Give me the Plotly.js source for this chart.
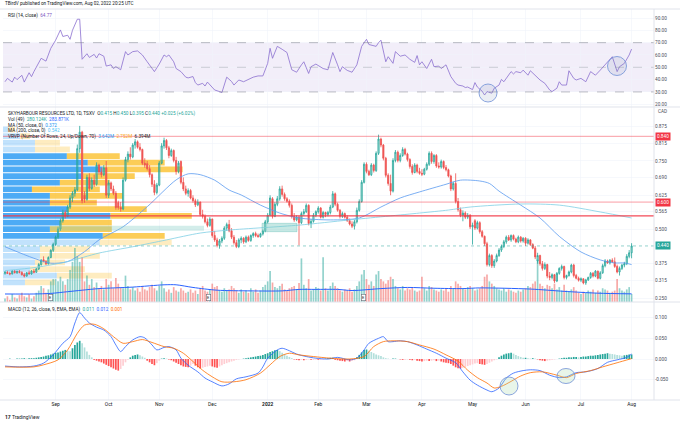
<!DOCTYPE html>
<html><head><meta charset="utf-8">
<script src="https://cdn.plot.ly/plotly-3.0.1.min.js"></script>
<style>html,body{margin:0;padding:0;background:#fff}#chart{width:680px;height:423px}</style>
</head><body><div id="chart"></div>
<script>
// ---------- trading days (weekdays) Aug 3 2021 .. Aug 2 2022 ----------
const dates = [];
(function(){ let t = Date.UTC(2021,7,3); const end = Date.UTC(2022,7,2);
  while (t <= end) { const d = new Date(t); const wd = d.getUTCDay();
    if (wd !== 0 && wd !== 6) dates.push(d.toISOString().slice(0,10)); t += 86400000; } })();

const tickDates  = ['2021-09-01','2021-10-01','2021-11-01','2021-12-01','2022-01-03','2022-02-01','2022-03-01','2022-04-01','2022-05-02','2022-06-01','2022-07-04','2022-08-02'];
const tickLabels = ['Sep','Oct','Nov','Dec','<b>2022</b>','Feb','Mar','Apr','May','Jun','Jul','Aug'];

// ---------- OHLC ----------
const open = [.340,.344,.340,.338,.348,.342,.347,.343,.335,.330,
.342,.338,.348,.344,.356,.372,.390,.384,.375,.398,
.424,.446,.472,.502,.532,.562,.548,.582,.615,.632,
.645,.795,.855,.625,.610,.690,.650,.680,.665,.735,
.710,.700,.725,.625,.670,.648,.632,.598,.580,.575,
.680,.755,.775,.765,.808,.820,.800,.792,.742,.740,
.722,.700,.665,.635,.662,.742,.805,.825,.798,.770,
.788,.752,.712,.748,.672,.648,.632,.642,.615,.605,
.590,.600,.555,.548,.528,.515,.538,.478,.462,.442,
.458,.468,.505,.518,.495,.472,.452,.438,.462,.468,
.455,.472,.460,.478,.485,.478,.474,.484,.495,.528,
.552,.612,.548,.592,.612,.648,.628,.612,.603,.588,
.548,.535,.545,.525,.558,.565,.588,.522,.530,.552,
.565,.578,.545,.562,.555,.562,.582,.630,.592,.570,
.548,.558,.545,.532,.520,.512,.528,.570,.602,.672,
.738,.712,.700,.735,.715,.778,.830,.808,.760,.698,
.668,.640,.752,.782,.752,.770,.792,.775,.755,.730,
.708,.735,.712,.705,.702,.720,.738,.778,.748,.770,
.732,.728,.748,.726,.718,.695,.648,.668,.602,.572,
.552,.560,.545,.552,.510,.532,.505,.525,.492,.475,
.448,.372,.405,.368,.385,.405,.425,.438,.455,.472,
.462,.478,.465,.455,.472,.458,.468,.450,.462,.445,
.432,.385,.405,.375,.358,.372,.330,.325,.335,.312,
.340,.358,.365,.325,.332,.345,.370,.332,.322,.315,
.320,.305,.316,.325,.340,.330,.348,.322,.342,.368,
.385,.378,.388,.382,.365,.345,.358,.370,.375,.402,
.415];
const high = [.348,.350,.346,.352,.352,.350,.352,.348,.342,.345,
.350,.352,.356,.360,.378,.392,.402,.388,.402,.428,
.452,.478,.510,.540,.572,.570,.590,.625,.640,.655,
.810,.878,.860,.640,.700,.705,.690,.700,.745,.740,
.725,.735,.750,.680,.675,.660,.640,.605,.600,.690,
.765,.785,.800,.815,.830,.825,.815,.795,.760,.750,
.735,.705,.680,.670,.750,.815,.835,.830,.805,.795,
.792,.765,.750,.752,.690,.660,.650,.648,.625,.612,
.610,.602,.572,.555,.540,.545,.540,.495,.470,.465,
.475,.512,.525,.535,.505,.480,.462,.468,.475,.472,
.478,.478,.482,.490,.492,.485,.488,.500,.535,.560,
.625,.618,.600,.622,.658,.660,.635,.618,.610,.595,
.560,.552,.550,.565,.575,.595,.592,.538,.560,.570,
.585,.582,.568,.565,.568,.590,.640,.635,.598,.575,
.565,.562,.552,.540,.530,.535,.580,.610,.680,.745,
.745,.718,.742,.740,.785,.846,.835,.812,.765,.705,
.700,.760,.790,.788,.778,.800,.798,.780,.760,.738,
.742,.740,.725,.720,.725,.745,.785,.785,.775,.775,
.745,.755,.752,.735,.722,.700,.675,.705,.615,.580,
.570,.566,.560,.556,.525,.538,.532,.530,.498,.478,
.455,.412,.410,.392,.412,.432,.445,.462,.478,.480,
.482,.482,.470,.478,.476,.472,.472,.468,.465,.450,
.440,.415,.408,.385,.380,.375,.345,.340,.338,.345,
.362,.372,.368,.335,.350,.375,.375,.338,.328,.325,
.322,.320,.328,.345,.345,.352,.350,.348,.375,.392,
.390,.392,.395,.398,.372,.365,.375,.382,.410,.425,
.450];
const low = [.335,.338,.333,.336,.340,.338,.340,.332,.325,.328,
.336,.335,.340,.342,.352,.368,.380,.370,.372,.395,
.418,.440,.465,.495,.525,.540,.545,.575,.600,.620,
.640,.780,.595,.598,.605,.640,.645,.655,.660,.700,
.690,.695,.615,.615,.640,.625,.572,.572,.565,.570,
.675,.745,.755,.760,.795,.795,.785,.735,.725,.715,
.690,.655,.625,.628,.658,.738,.795,.790,.760,.765,
.745,.700,.705,.665,.640,.625,.620,.610,.598,.582,
.585,.548,.540,.522,.508,.510,.470,.455,.435,.430,
.450,.462,.495,.490,.465,.445,.432,.432,.450,.448,
.450,.455,.455,.470,.472,.470,.470,.478,.490,.522,
.548,.540,.545,.585,.605,.620,.605,.598,.580,.540,
.528,.530,.442,.520,.550,.560,.515,.505,.525,.545,
.558,.540,.540,.545,.548,.555,.578,.585,.565,.540,
.542,.540,.528,.515,.505,.500,.522,.565,.598,.668,
.705,.695,.695,.708,.710,.772,.800,.752,.690,.660,
.625,.635,.745,.745,.745,.765,.770,.748,.722,.700,
.705,.705,.700,.695,.698,.715,.732,.740,.740,.725,
.722,.722,.720,.712,.690,.640,.642,.595,.565,.545,
.530,.538,.538,.502,.445,.498,.500,.485,.470,.440,
.365,.365,.360,.360,.380,.400,.418,.432,.448,.458,
.455,.460,.450,.450,.452,.452,.440,.445,.440,.428,
.392,.375,.368,.350,.352,.322,.315,.318,.305,.308,
.335,.350,.318,.318,.328,.340,.325,.318,.310,.308,
.300,.298,.312,.320,.325,.326,.318,.318,.338,.362,
.375,.372,.378,.360,.340,.332,.352,.362,.370,.395,
.395];
const close = [.344,.340,.338,.348,.342,.347,.343,.335,.330,.342,
.338,.348,.344,.356,.372,.388,.384,.375,.398,.424,
.446,.472,.502,.532,.562,.548,.582,.615,.632,.645,
.795,.855,.605,.610,.690,.650,.680,.665,.735,.710,
.700,.725,.625,.670,.648,.632,.580,.580,.575,.680,
.755,.775,.765,.808,.820,.800,.792,.742,.735,.722,
.700,.665,.635,.662,.742,.805,.825,.798,.770,.788,
.752,.712,.742,.672,.648,.632,.642,.615,.605,.590,
.600,.555,.548,.528,.515,.538,.478,.462,.442,.458,
.468,.505,.518,.495,.472,.452,.438,.462,.468,.455,
.472,.460,.478,.485,.478,.474,.484,.495,.528,.552,
.615,.548,.592,.612,.648,.628,.612,.603,.588,.548,
.535,.545,.525,.558,.565,.588,.522,.530,.552,.565,
.578,.545,.562,.555,.562,.582,.630,.592,.570,.548,
.558,.545,.532,.520,.512,.528,.570,.602,.672,.738,
.712,.700,.735,.715,.778,.830,.808,.760,.698,.668,
.640,.752,.782,.752,.770,.792,.775,.755,.730,.708,
.735,.712,.705,.702,.720,.738,.778,.748,.770,.732,
.728,.748,.726,.718,.695,.648,.668,.602,.572,.552,
.560,.545,.552,.510,.515,.505,.525,.492,.475,.448,
.372,.405,.368,.385,.405,.425,.438,.455,.472,.462,
.478,.465,.455,.472,.458,.468,.450,.462,.445,.432,
.400,.405,.375,.358,.372,.330,.325,.335,.312,.340,
.358,.365,.325,.332,.345,.370,.332,.322,.315,.320,
.305,.316,.325,.340,.330,.348,.322,.342,.368,.385,
.378,.388,.382,.365,.345,.358,.370,.375,.402,.415,
.440];

// ---------- volume (K) ----------
const volume = [120,200,80,280,160,120,240,320,200,160,267,120,200,320,
400,560,480,320,440,720,800,
800,720,880,720,600,800,1120,1400,1880,
1600,1400,1560,
720,920,600,800,520,680,480,560,440,800,
600,720,480,840,640,520,480,920,560,440,
520,400,480,360,560,440,400,520,600,480,400,
560,720,480,360,440,320,520,400,360,480,400,320,
360,440,320,400,280,480,560,400,360,440,
640,520,560,400,360,480,400,440,560,480,400,320,
440,360,400,320,480,360,440,320,400,520,600,
720,1080,680,520,480,560,640,440,400,480,520,560,440,667,
1520,600,480,800,400,440,520,480,400,1560,480,400,560,
680,560,480,400,360,440,400,480,360,440,560,720,960,1120,
800,600,720,560,960,1080,800,720,640,760,880,
800,560,480,440,560,400,480,440,520,400,360,400,
880,480,400,560,520,440,400,360,440,400,480,360,560,480,
720,640,560,480,440,520,560,480,400,440,480,560,880,
960,720,640,560,480,440,400,480,360,440,400,360,320,400,360,440,
480,560,520,640,720,1480,640,560,480,600,
560,480,640,440,520,400,600,400,360,440,520,400,320,280,360,
320,400,360,440,320,400,360,480,440,400,320,360,400,800,480,400,360,440,520,280.124];
const volMaIdx = [0,12,19,26,32,39,53,66,71,78,88,102,115,122,129,138,144,156,167,178,190,197,218,232,246,260];
const volMaVal = [280,280,300,360,412,468,520,600,600,508,412,388,388,440,440,440,400,468,508,480,468,492,452,372,308,283.871];

// ---------- moving averages ----------
const ma50Idx = [0,12,19,26,33,39,49,59,71,76,81,87,93,98,106,114,122,135,147,156,164,172,183,189,197,201,205,214,222,230,239,247,253,257,260];
const ma50Val = [.437,.395,.377,.383,.419,.462,.510,.583,.681,.703,.700,.680,.644,.626,.589,.560,.542,.535,.542,.582,.615,.637,.665,.680,.677,.668,.640,.589,.542,.475,.418,.389,.378,.378,.372];
const ma200Idx = [0,13,26,39,53,67,81,93,122,143,172,184,193,214,230,247,260];
const ma200Val = [.350,.362,.383,.414,.437,.462,.487,.498,.516,.535,.560,.571,.582,.593,.589,.564,.542];

// ---------- VRVP (24 rows, up / down volume in K) ----------
const vrPrice = [.3071,.3314,.3556,.3799,.4041,.4284,.4526,.4769,.5011,.5254,.5496,.5739,.5981,.6224,.6466,.6709,.6951,.7194,.7436,.7679,.7921,.8164,.8406,.8649];
const vrUp   = [744,1825,913,1082,1251,1251,3279,3380,1589,1927,3642,2197,1589,1589,980,1927,2704,3380,2873,2163,1082,1082,575,169];
const vrDown = [1014,1859,1859,1014,2028,1690,2434,2096,2096,1758,2752,2670,1589,2467,2299,1690,1758,2704,2603,1791,1183,845,338,237];
const vaLow = 7, vaHigh = 19;

// ---------- RSI ----------
const rsiIdx = [0,1,3,4,5,7,8,10,11,12,15,17,19,21,23,24,26,27,28,30,31,32,34,35,37,38,39,41,42,44,45,46,48,50,51,53,55,57,59,61,62,64,66,67,68,70,71,73,75,76,78,79,80,82,83,84,86,87,89,90,92,94,95,97,99,101,103,105,107,109,110,111,113,115,117,119,121,123,124,126,127,129,132,134,136,138,139,140,142,144,146,148,150,151,154,155,156,158,159,161,162,164,166,168,170,171,172,173,175,177,178,180,181,183,184,185,187,188,190,191,192,194,195,196,198,199,200,202,203,205,206,207,210,211,212,214,215,217,218,220,222,224,226,227,229,230,231,233,234,236,237,239,241,243,245,247,249,251,252,254,255,257,259,260];
const rsiVal = [38.3,41,38,42,40,43.5,38,45.6,42.4,46.5,57.3,55,65.4,72,80.3,75,76,72.7,80,89,89,56.5,61,58,60.5,57.5,61,59,51,52,49,50.5,48,62.7,60,62.7,63.3,60,54.5,49,46.5,52.6,60,58.6,60,54.5,49,46.5,42,41.4,42.5,37.6,35.6,37,34.8,38,33.6,31.6,30.3,29.5,42,38.5,35.6,39.7,38.3,40.3,42,43,43,53.2,65.4,57.3,67,64.6,62,48,46,52,54.5,45,50.5,52.6,49,48,62,52,46.5,50.5,47.5,46,52,67,72.7,68.5,67,70,72,54.5,58.6,53.2,62.7,59,60,56.5,54,59.5,52,54.5,49,56.5,50.5,51,49,52,46.5,42.5,37,35.6,34.8,33.6,34,31.9,37.6,34,30.6,27.5,30.3,29,33,35.6,40.2,38.3,46.5,44.6,46.5,45.6,47.7,43.6,47.2,43.6,39.7,37,31.6,30.3,33,38.3,35.6,35.6,47.2,41,39.7,41,38.3,46.5,43.6,47.7,52,56.5,58.6,46.5,50.5,53.2,60,64.77];

// ---------- MACD ----------
const macdIdx = [0,6,12,16,20,24,27,29,31,33,35,38,41,44,46,48,50,53,56,58,61,63,66,68,71,73,76,80,83,86,90,93,96,100,105,107,109,113,115,118,121,125,129,134,138,143,146,149,151,155,157,159,161,164,167,171,175,179,183,187,190,193,196,200,202,205,208,211,215,218,222,226,230,233,237,241,246,250,254,258,260];
const macdVal = [-.017,-.019,-.017,-.010,.010,.038,.054,.087,.112,.099,.087,.077,.070,.054,.034,.018,.030,.046,.054,.051,.034,.022,.028,.030,.022,.002,-.015,-.031,-.046,-.055,-.065,-.060,-.048,-.043,-.034,-.019,.002,.022,.026,.020,.012,.006,.002,.000,.004,-.002,.002,.022,.038,.050,.054,.042,.042,.044,.042,.034,.024,.014,.002,-.009,-.031,-.051,-.063,-.075,-.079,-.070,-.046,-.034,-.028,-.026,-.028,-.039,-.045,-.043,-.033,-.031,-.023,-.008,-.002,.004,.012];
const sigIdx = [0,12,16,22,26,30,33,37,41,45,49,53,57,61,66,70,74,78,82,86,90,95,100,106,110,114,118,122,128,135,143,149,153,157,161,167,172,178,183,188,192,196,200,203,206,210,214,218,223,229,233,237,243,248,254,260];
const sigVal = [-.019,-.019,-.014,-.002,.022,.062,.082,.084,.073,.054,.038,.042,.047,.040,.030,.026,.014,-.006,-.027,-.043,-.055,-.055,-.050,-.034,-.014,.006,.014,.010,.006,.002,.000,.006,.030,.042,.044,.042,.034,.024,.010,-.005,-.027,-.045,-.058,-.070,-.066,-.054,-.041,-.033,-.031,-.039,-.045,-.035,-.028,-.019,-.009,.001];
const macdHist = [0,0,.001,0,0,.001,.001,.001,.002,.001,.002,.002,.002,.003,
.004,.005,.006,.008,.009,.011,.013,.015,.016,.018,.020,.022,.020,.019,
.026,.034,.040,.044,.038,.028,.018,.010,.004,-.002,
-.004,-.006,-.008,-.011,-.014,-.017,-.020,-.023,-.026,-.028,
-.024,-.016,-.008,-.002,.004,.008,.010,.011,.009,.006,.003,
-.004,-.008,-.012,-.015,-.010,-.004,.001,.002,.001,-.001,
-.003,-.006,-.009,-.012,-.015,-.018,-.019,-.020,-.016,-.012,
-.016,-.020,-.023,-.021,-.019,-.018,-.016,-.018,-.020,-.021,
-.018,-.015,-.012,-.010,-.008,-.006,-.004,-.002,-.001,0,
.001,.002,.003,.004,.005,.006,.007,.008,.010,
.012,.014,.017,.019,.021,.022,.019,.015,.012,.008,.005,.002,
-.001,-.002,-.003,-.002,-.003,-.002,-.001,-.002,
-.002,-.001,-.002,-.002,-.001,.001,.002,.003,.003,
-.002,-.003,-.004,-.005,-.006,-.005,-.006,-.005,-.003,
.004,.010,.016,.022,.023,.020,.017,.014,.011,.009,.007,.004,.002,
.001,0,.001,.001,0,-.001,-.002,-.002,-.001,-.002,-.003,-.002,
-.004,-.005,-.006,-.005,-.004,-.005,-.004,-.003,-.005,-.004,-.006,-.008,-.009,-.010,
-.012,-.016,-.020,-.022,-.023,-.021,-.019,-.017,-.015,-.013,-.011,-.010,
-.012,-.013,-.014,-.012,-.009,-.006,-.003,-.001,
.004,.008,.011,.013,.014,.015,.013,.010,.007,.005,.003,
.003,.002,.001,.002,.001,-.001,-.003,-.004,-.005,-.004,-.003,-.002,-.001,0,
.001,.002,.003,.003,.004,.004,.005,.005,
.004,.005,.006,.006,.007,.008,.008,.009,.010,.011,.012,.013,
.014,.013,.012,.011,.010,.009,.008,.009,.010,.011,.011];

// ---------- styling helpers ----------
const GRID = '#f0f3fa', AX = '#4a4e59', SEP = '#e0e3eb';
const FONT = 'Roboto, "Liberation Sans", sans-serif';
const px = x => (x - 3) / 651;      // pixel -> paper x
const py = y => (400 - y) / 391;    // pixel -> paper y
const pick = (idx) => idx.map(i => dates[i]);
const XR = [-0.83, 269.3];
const last = dates.length - 1;

const volColors = close.map((c,i) => c >= open[i] ? 'rgba(38,166,154,0.5)' : 'rgba(239,83,80,0.5)');
const histColors = macdHist.map((h,i) => { const p = i ? macdHist[i-1] : 0;
  return h >= 0 ? (h >= p ? '#26a69a' : '#b2dfdb') : (h < p ? '#ff5252' : '#ffcdd2'); });
const inVA = k => k >= vaLow && k <= vaHigh;
const upCol = vrPrice.map((_,k) => inVA(k) ? 'rgba(33,150,243,0.8)' : 'rgba(33,150,243,0.28)');
const dnCol = vrPrice.map((_,k) => inVA(k) ? 'rgba(251,192,45,0.8)' : 'rgba(251,192,45,0.3)');
const rowH = vrPrice[1] - vrPrice[0];
const vrTot = vrUp.map((u,k) => u + vrDown[k]);
const vrMax = Math.max(...vrTot) / 0.29;

const traces = [
  // RSI
  {type:'scatter', mode:'lines', x:pick(rsiIdx), y:rsiVal, xaxis:'x', yaxis:'y', line:{color:'#8a6fcf', width:0.8}},
  // base price subplot (anchor for the overlays): invisible marker at the last close
  {type:'scatter', mode:'markers', x:[dates[last]], y:[close[last]], xaxis:'x', yaxis:'y2', marker:{size:1, opacity:0}},
  // MACD
  {type:'bar', x:dates, y:macdHist, xaxis:'x', yaxis:'y3', marker:{color:histColors, line:{width:0}}},
  {type:'scatter', mode:'lines', x:pick(macdIdx), y:macdVal, xaxis:'x', yaxis:'y3', line:{color:'#2962ff', width:0.8, shape:'spline', smoothing:0.8}},
  {type:'scatter', mode:'lines', x:pick(sigIdx), y:sigVal, xaxis:'x', yaxis:'y3', line:{color:'#ff6d00', width:0.8, shape:'spline', smoothing:0.8}},
  // VRVP
  {type:'bar', orientation:'h', x:vrUp, y:vrPrice, base:0, width:rowH*0.86, xaxis:'x2', yaxis:'y2', marker:{color:upCol, line:{width:0}}},
  {type:'bar', orientation:'h', x:vrDown, y:vrPrice, base:vrUp, width:rowH*0.86, xaxis:'x2', yaxis:'y2', marker:{color:dnCol, line:{width:0}}},
  // volume
  {type:'bar', x:dates, y:volume, xaxis:'x3', yaxis:'y4', marker:{color:volColors, line:{width:0}}},
  {type:'scatter', mode:'lines', x:pick(volMaIdx), y:volMaVal, xaxis:'x3', yaxis:'y4', line:{color:'#2962ff', width:1, shape:'spline', smoothing:0.8}},
  // candles
  {type:'candlestick', x:dates, open:open, high:high, low:low, close:close, xaxis:'x4', yaxis:'y2',
   increasing:{line:{color:'#26a69a', width:0.8}, fillcolor:'rgba(38,166,154,0.35)'},
   decreasing:{line:{color:'#ef5350', width:0.8}, fillcolor:'#ef5350'}, whiskerwidth:0},
  {type:'scatter', mode:'lines', x:pick(ma50Idx), y:ma50Val, xaxis:'x4', yaxis:'y2', line:{color:'#5b9bf0', width:0.8, shape:'spline', smoothing:0.8}},
  {type:'scatter', mode:'lines', x:pick(ma200Idx), y:ma200Val, xaxis:'x4', yaxis:'y2', line:{color:'#7fcfe4', width:0.8, shape:'spline', smoothing:0.8}}
];

const tf = {family:FONT, size:4.7, color:AX};
const yBase = {side:'right', anchor:'x', showgrid:true, gridcolor:GRID, gridwidth:0.6, zeroline:false, showline:false, ticks:'', tickfont:tf, fixedrange:true};
const catX = {type:'category', categoryorder:'array', categoryarray:dates, range:XR, visible:false, overlaying:'x', fixedrange:true};
const rsiTicks = [20,30,40,50,60,70,80,90];
const pTicks = [0.250,0.315,0.375,0.500,0.565,0.625,0.690,0.750,0.815,0.875];
const mTicks = [-0.05,0,0.05,0.1];

const hline = (y, color, width, dash) => ({type:'line', xref:'paper', yref:'y2', x0:0, x1:1, y0:y, y1:y, line:{color:color, width:width, dash:dash||'solid'}});
const rsiLine = (y, op) => ({type:'line', xref:'paper', yref:'y', x0:0, x1:1, y0:y, y1:y, line:{color:'rgba(120,123,134,'+op+')', width:0.7, dash:'dash'}});
const circ = (cx, cy, rx, ry, fill) => ({type:'circle', xref:'paper', yref:'paper', x0:px(cx-rx), x1:px(cx+rx), y0:py(cy+ry), y1:py(cy-ry), line:{color:'#6f8fd6', width:0.8}, fillcolor:fill});
const sep = (y) => ({type:'line', xref:'paper', yref:'paper', x0:-0.01, x1:1.05, y0:y, y1:y, line:{color:SEP, width:1}});

const shapes = [
  {type:'rect', xref:'paper', yref:'y', x0:0, x1:1, y0:30, y1:70, fillcolor:'rgba(126,87,194,0.1)', line:{width:0}, layer:'below'},
  rsiLine(70,0.7), rsiLine(50,0.45), rsiLine(30,0.7),
  hline(0.840, 'rgba(242,54,69,0.55)', 0.9),
  hline(0.600, 'rgba(242,54,69,0.55)', 0.9),
  hline(0.5496, 'rgba(242,54,69,0.9)', 1.4),
  hline(0.440, 'rgba(38,166,154,0.7)', 0.7, 'dot'),
  {type:'rect', xref:'paper', yref:'y2', x0:px(50), x1:px(204), y0:0.4956, y1:0.514, fillcolor:'rgba(128,203,196,0.35)', line:{width:0}},
  {type:'rect', xref:'paper', yref:'y2', x0:px(262), x1:px(297), y0:0.492, y1:0.5226, fillcolor:'rgba(128,203,196,0.45)', line:{color:'rgba(38,166,154,0.5)', width:0.5}},
  circ(488, 93, 9, 9, 'rgba(120,140,180,0.15)'),
  circ(617, 66, 9.5, 9.5, 'rgba(120,140,180,0.15)'),
  circ(509, 386, 9, 9, 'rgba(165,214,167,0.25)'),
  circ(566, 376, 9, 7.5, 'rgba(165,214,167,0.25)'),
  sep(1), sep(0.7494), sep(0.2506), sep(0),
  {type:'line', xref:'paper', yref:'paper', x0:1, x1:1, y0:0, y1:1, line:{color:SEP, width:1}}
];

const sp = (c, t) => '<span style="color:' + c + '">' + t + '</span>';
const T = '#26a69a';
const ann = (x, y, text, extra) => Object.assign({xref:'paper', yref:'paper', x:px(x), y:py(y), xanchor:'left', yanchor:'middle', showarrow:false, text:text, font:{family:FONT, size:4.7, color:'#131722'}}, extra||{});
const box = (v, bg) => ({xref:'paper', yref:'y2', x:1, y:v, xanchor:'left', yanchor:'middle', xshift:1, showarrow:false, text:v.toFixed(3), bgcolor:bg, borderpad:1, font:{family:FONT, size:4.7, color:'#fff'}});
const emark = (x) => ann(x - 2.5, 297.5, 'E', {font:{family:FONT, size:4, color:'#131722'}, bgcolor:'#fff', bordercolor:'#6a6d78', borderwidth:0.6, borderpad:0.5});

const annotations = [
  ann(3, 4, 'TBirdV published on TradingView.com, Aug 02, 2022 20:25 UTC', {font:{family:FONT, size:4.6, color:'#131722'}}),
  ann(6, 15, 'RSI (14, close)  ' + sp('#7e57c2', '64.77')),
  ann(6, 113.3, 'SKYHARBOUR RESOURCES LTD, 1D, TSXV  O' + sp(T,'0.415') + ' H' + sp(T,'0.450') + ' L' + sp(T,'0.395') + ' C' + sp(T,'0.440') + ' ' + sp(T,'+0.025 (+6.02%)')),
  ann(6, 119.3, 'Vol (49)  ' + sp(T,'280.124K') + '  ' + sp('#2962ff','283.871K')),
  ann(6, 125, 'MA (50, close, 0)  ' + sp('#2196f3','0.372')),
  ann(6, 130.7, 'MA (200, close, 0)  ' + sp('#4fc3f7','0.542')),
  ann(6, 136.7, 'VRVP (Number Of Rows, 24, Up/Down, 70)  ' + sp('#2196f3','3.642M') + '  ' + sp('#f9a825','2.752M') + '  ' + sp('#131722','6.394M')),
  ann(6, 309, 'MACD (12, 26, close, 9, EMA, EMA)  ' + sp(T,'0.011') + '  ' + sp('#2962ff','0.012') + '  ' + sp('#ff6d00','0.001')),
  ann(3, 417, '<b>17</b> TradingView', {font:{family:FONT, size:5, color:'#131722'}}),
  {xref:'paper', yref:'paper', x:1, y:py(112), xanchor:'left', yanchor:'middle', xshift:2, showarrow:false, text:'CAD', font:tf},
  box(0.840, '#f23645'), box(0.600, '#f23645'), box(0.440, '#26a69a'),
  emark(50), emark(208), emark(363)
];

const layout = {
  width:680, height:423, margin:{l:3, r:26, t:9, b:23},
  paper_bgcolor:'#fff', plot_bgcolor:'#fff', showlegend:false, hovermode:false,
  barmode:'overlay', bargap:0.3,
  font:{family:FONT, size:4.7, color:'#131722'},
  xaxis:{type:'category', categoryorder:'array', categoryarray:dates, range:XR, anchor:'y3', domain:[0,1],
         tickvals:tickDates, ticktext:tickLabels, showgrid:true, gridcolor:GRID, gridwidth:0.6, zeroline:false, showline:false,
         ticks:'', tickfont:{family:FONT, size:4.9, color:'#131722'}, fixedrange:true, rangeslider:{visible:false}},
  xaxis2:{overlaying:'x', type:'linear', range:[0, vrMax], visible:false, fixedrange:true},
  xaxis3:Object.assign({}, catX),
  xaxis4:Object.assign({}, catX, {rangeslider:{visible:false}}),
  yaxis:Object.assign({}, yBase, {domain:[0.7494,1], range:[17.8,97.3], tickvals:rsiTicks, ticktext:rsiTicks.map(v=>v.toFixed(2))}),
  yaxis2:Object.assign({}, yBase, {domain:[0.2506,0.7494], range:[0.2354,0.947], tickvals:pTicks, ticktext:pTicks.map(v=>v.toFixed(3))}),
  yaxis3:Object.assign({}, yBase, {domain:[0,0.2506], range:[-0.099,0.1377], tickvals:mTicks, ticktext:mTicks.map(v=>v.toFixed(3))}),
  yaxis4:{overlaying:'y2', range:[0,6800], visible:false, fixedrange:true},
  shapes:shapes, annotations:annotations
};

Plotly.newPlot('chart', traces, layout, {displayModeBar:false, staticPlot:true});
</script></body></html>
